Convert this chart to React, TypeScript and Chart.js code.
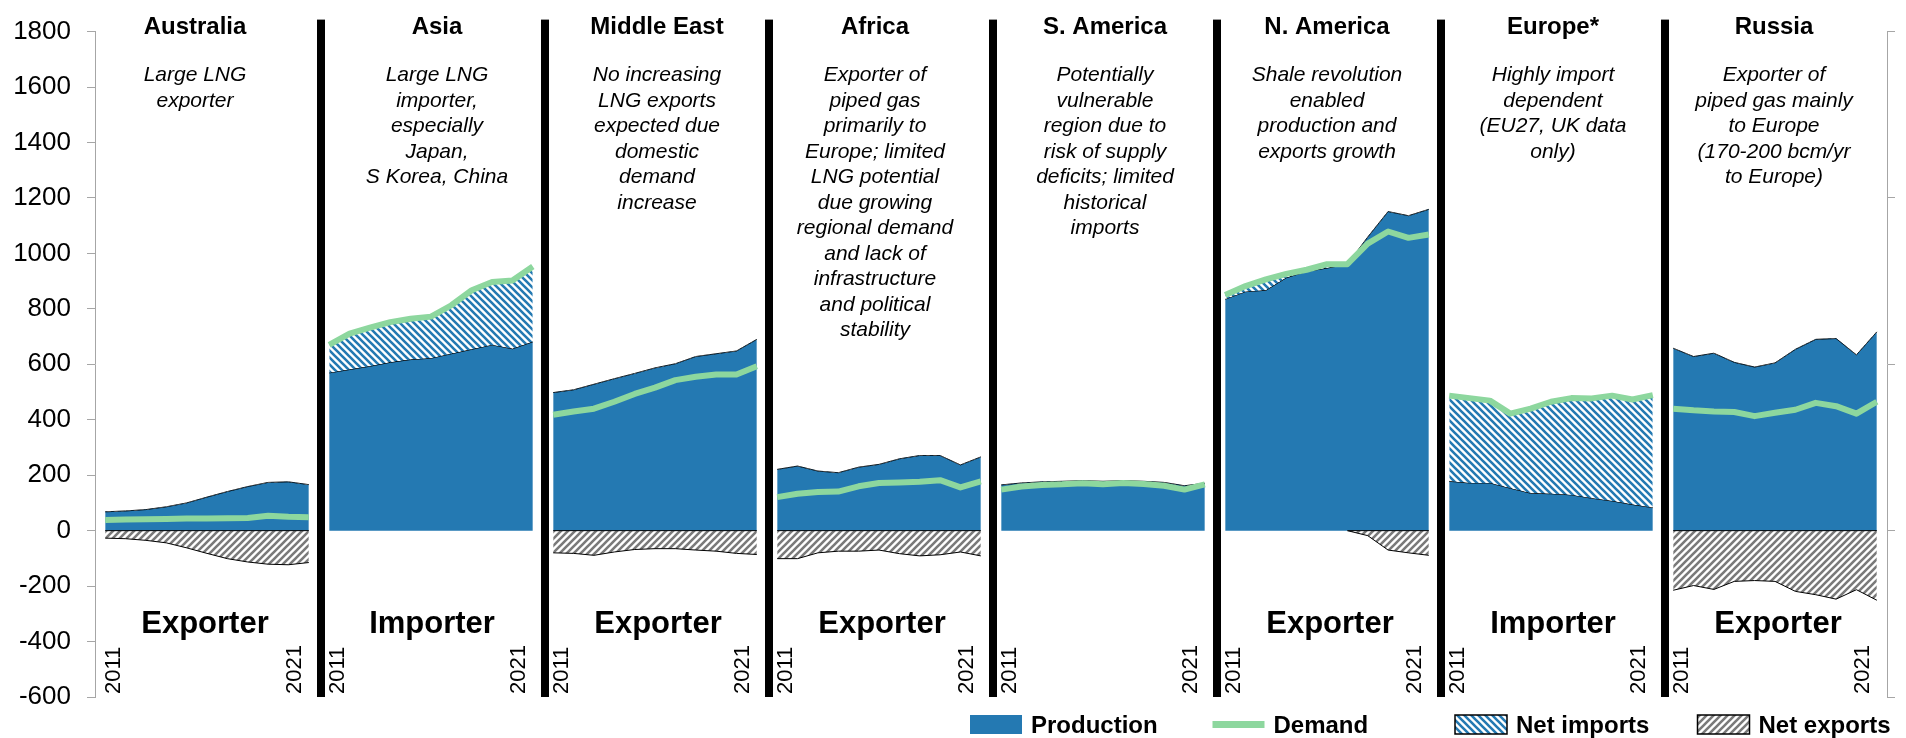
import React, { useEffect, useRef } from 'react';
import { Chart, registerables } from 'chart.js';

Chart.register(...registerables);

const FONT = '"Liberation Sans", Arial, sans-serif';

// ---------- data ----------
const years = ['2011', '2012', '2013', '2014', '2015', '2016', '2017', '2018', '2019', '2020', '2021'];
const regions = ['Australia', 'Asia', 'Middle East', 'Africa', 'S. America', 'N. America', 'Europe*', 'Russia'];
const roles = ['Exporter', 'Importer', 'Exporter', 'Exporter', '', 'Exporter', 'Importer', 'Exporter'];
const notes: string[][] = [
  ['Large LNG', 'exporter'],
  ['Large LNG', 'importer,', 'especially', 'Japan,', 'S Korea, China'],
  ['No increasing', 'LNG exports', 'expected due', 'domestic', 'demand', 'increase'],
  ['Exporter of', 'piped gas', 'primarily to', 'Europe; limited', 'LNG potential', 'due growing', 'regional demand', 'and lack of', 'infrastructure', 'and political', 'stability'],
  ['Potentially', 'vulnerable', 'region due to', 'risk of supply', 'deficits; limited', 'historical', 'imports'],
  ['Shale revolution', 'enabled', 'production and', 'exports growth'],
  ['Highly import', 'dependent', '(EU27, UK data', 'only)'],
  ['Exporter of', 'piped gas mainly', 'to Europe', '(170-200 bcm/yr', 'to Europe)'],
];

const production: number[][] = [
  [68, 71, 76, 86, 100, 121, 141, 159, 174, 176, 166],
  [569, 581, 593, 607, 617, 622, 638, 654, 670, 656, 681],
  [498, 508, 528, 548, 567, 587, 602, 628, 638, 648, 690],
  [221, 233, 215, 209, 229, 239, 259, 271, 271, 237, 266],
  [165, 172, 176, 178, 180, 178, 180, 178, 174, 162, 171],
  [835, 862, 867, 912, 935, 947, 961, 1059, 1151, 1136, 1159],
  [178, 172, 172, 153, 135, 133, 129, 117, 107, 94, 83],
  [658, 628, 640, 607, 590, 605, 654, 690, 693, 634, 717],
];

const demand: number[][] = [
  [38, 40, 41, 42, 44, 44, 45, 46, 54, 50, 48],
  [670, 711, 732, 752, 764, 772, 813, 867, 897, 902, 953],
  [418, 430, 440, 465, 493, 516, 543, 555, 563, 563, 593],
  [121, 133, 139, 141, 160, 172, 174, 176, 182, 156, 178],
  [148, 159, 165, 167, 171, 167, 172, 168, 162, 148, 167],
  [850, 882, 906, 926, 941, 961, 961, 1035, 1079, 1056, 1068],
  [487, 478, 469, 422, 440, 465, 478, 477, 487, 473, 489],
  [440, 434, 430, 428, 413, 425, 436, 461, 449, 422, 465],
];

const N = null;
const netExports: (number | null)[][] = [
  [-27, -29, -35, -44, -62, -82, -101, -113, -121, -123, -115],
  [N, N, N, N, N, N, N, N, N, N, N],
  [-80, -82, -89, -77, -68, -65, -65, -70, -74, -82, -86],
  [-101, -101, -80, -74, -74, -70, -83, -91, -87, -77, -91],
  [N, N, N, N, N, N, N, N, N, N, N],
  [N, N, N, N, N, N, 0, -18, -70, -80, -89],
  [N, N, N, N, N, N, N, N, N, N, N],
  [-215, -198, -212, -183, -180, -183, -219, -231, -247, -213, -251],
];

const yTickMin = -600;
const yTickMax = 1800;
const legendLabels = ['Production', 'Demand', 'Net imports', 'Net exports'];

// ---------- layout / style ----------
const PER = years.length;
const PANELS = regions.length;
const BLUE = '#2479B2';
const GREEN = '#8DD79E';
const AXIS_GREY = '#A6A6A6';
const titleDx = [-12, 6, 2, -4, 2, 0, 2, -1];
const roleDx = [-2, 1, 3, 3, 0, 3, 2, 3];

function series(rows: (number | null)[][]) {
  const pts: { x: number; y: number | null }[] = [];
  rows.forEach((row, i) => {
    row.forEach((v, k) => pts.push({ x: i * PER + k, y: v }));
    if (i < rows.length - 1) pts.push({ x: i * PER + PER - 0.5, y: null });
  });
  return pts;
}

function makeHatch(fg: string, bg: string, dir: 'back' | 'fwd', size = 7, lw = 2.6) {
  const c = document.createElement('canvas');
  c.width = size;
  c.height = size;
  const g = c.getContext('2d')!;
  g.fillStyle = bg;
  g.fillRect(0, 0, size, size);
  g.strokeStyle = fg;
  g.lineWidth = lw;
  g.beginPath();
  for (const off of [-size, 0, size]) {
    if (dir === 'back') {
      g.moveTo(-1, off - 1);
      g.lineTo(size + 1, size + off + 1);
    } else {
      g.moveTo(-1, size + off + 1);
      g.lineTo(size + 1, off - 1);
    }
  }
  g.stroke();
  return g.createPattern(c, 'repeat')!;
}

export default function App() {
  const ref = useRef<HTMLCanvasElement>(null);

  useEffect(() => {
    const canvas = ref.current!;
    const importHatch = makeHatch(BLUE, '#ffffff', 'back');
    const exportHatch = makeHatch('#7a7a7a', '#ffffff', 'fwd');

    const decor = {
      id: 'decor',
      afterDatasetsDraw(chart: any) {
        const { ctx, chartArea, scales } = chart;
        const x = scales.x;
        const y = scales.y;
        const y0 = y.getPixelForValue(0);
        ctx.save();
        // top edge of net-export areas (zero line)
        ctx.strokeStyle = '#000';
        ctx.lineWidth = 1;
        netExports.forEach((row, i) => {
          const idx = row.map((v, k) => (v === null ? -1 : k)).filter((k) => k >= 0);
          if (!idx.length) return;
          ctx.beginPath();
          ctx.moveTo(x.getPixelForValue(i * PER + idx[0]), y0);
          ctx.lineTo(x.getPixelForValue(i * PER + idx[idx.length - 1]), y0);
          ctx.stroke();
        });
        // panel separators
        ctx.fillStyle = '#000';
        for (let i = 0; i < PANELS - 1; i++) {
          const px = x.getPixelForValue(i * PER + PER - 0.5) + 2;
          ctx.fillRect(px - 4, chartArea.top - 12, 8, chartArea.bottom - chartArea.top + 12);
        }
        ctx.restore();
      },
      afterDraw(chart: any) {
        const { ctx, scales, chartArea } = chart;
        const x = scales.x;
        ctx.save();
        ctx.fillStyle = '#000';
        ctx.textAlign = 'center';
        ctx.textBaseline = 'alphabetic';
        for (let i = 0; i < PANELS; i++) {
          const cx = x.getPixelForValue(i * PER + (PER - 1) / 2);
          ctx.font = `bold 24px ${FONT}`;
          ctx.fillText(regions[i], cx + titleDx[i], 34);
          ctx.font = `italic 21px ${FONT}`;
          notes[i].forEach((line, j) => ctx.fillText(line, cx + titleDx[i], 81 + j * 25.5));
          if (roles[i]) {
            ctx.font = `bold 31px ${FONT}`;
            ctx.fillText(roles[i], cx + roleDx[i], 633);
          }
        }
        // year labels (first and last year of each panel), rotated
        ctx.font = `22px ${FONT}`;
        ctx.textAlign = 'left';
        ctx.textBaseline = 'middle';
        for (let i = 0; i < PANELS; i++) {
          const marks: [string, number][] = [
            [years[0], i * PER + 0.37],
            [years[PER - 1], i * PER + PER - 1.71],
          ];
          for (const [txt, v] of marks) {
            ctx.save();
            ctx.translate(x.getPixelForValue(v) + 1, chartArea.bottom - 3);
            ctx.rotate(-Math.PI / 2);
            ctx.fillText(txt, 0, 0);
            ctx.restore();
          }
        }
        // legend
        const lx = [970, 1212.5, 1455, 1697.5];
        const boxW = 52;
        const top = 715;
        const h = 19;
        ctx.textAlign = 'left';
        ctx.textBaseline = 'alphabetic';
        ctx.font = `bold 24px ${FONT}`;
        legendLabels.forEach((label, j) => {
          const x0 = lx[j];
          if (j === 0) {
            ctx.fillStyle = BLUE;
            ctx.fillRect(x0, top, boxW, h);
          } else if (j === 1) {
            ctx.fillStyle = GREEN;
            ctx.fillRect(x0, top + 6, boxW, 7);
          } else {
            ctx.fillStyle = j === 2 ? importHatch : exportHatch;
            ctx.fillRect(x0, top, boxW, h);
            ctx.strokeStyle = '#000';
            ctx.lineWidth = 1.5;
            ctx.strokeRect(x0, top, boxW, h);
          }
          ctx.fillStyle = '#000';
          ctx.fillText(label, x0 + boxW + 9, 733);
        });
        ctx.restore();
      },
    };

    const chart = new Chart(canvas, {
      type: 'line',
      data: {
        datasets: [
          {
            label: 'Demand',
            data: series(demand) as any,
            borderColor: GREEN,
            borderWidth: 6,
            pointRadius: 0,
            spanGaps: false,
            borderJoinStyle: 'round',
            fill: { target: 1, above: importHatch, below: 'rgba(0,0,0,0)' } as any,
          },
          {
            label: 'Production',
            data: series(production) as any,
            borderColor: '#000',
            borderWidth: 1,
            backgroundColor: BLUE,
            pointRadius: 0,
            spanGaps: false,
            fill: 'origin',
          },
          {
            label: 'Net exports',
            data: series(netExports) as any,
            borderColor: '#000',
            borderWidth: 1,
            backgroundColor: exportHatch,
            pointRadius: 0,
            spanGaps: false,
            fill: 'origin',
          },
        ],
      },
      options: {
        responsive: false,
        animation: false,
        events: [],
        layout: { padding: { top: 19, left: 0, right: 0, bottom: 0 } },
        plugins: {
          legend: { display: false },
          tooltip: { enabled: false },
        },
        scales: {
          x: {
            type: 'linear',
            min: -0.5,
            max: PANELS * PER - 0.5,
            grid: { display: false },
            border: { display: false },
            ticks: { display: false },
            afterFit: (s: any) => {
              s.height = 41;
            },
          },
          y: {
            position: 'left',
            min: yTickMin,
            max: yTickMax,
            afterFit: (s: any) => {
              s.width = 95;
            },
            grid: { drawOnChartArea: false, drawTicks: true, tickLength: 8, color: AXIS_GREY },
            border: { display: true, color: AXIS_GREY, width: 1 },
            ticks: {
              stepSize: 200,
              padding: 16,
              color: '#000',
              font: { size: 26, family: FONT },
              callback: (v: any) => String(v),
            },
          },
          y2: {
            position: 'right',
            min: yTickMin,
            max: yTickMax,
            afterFit: (s: any) => {
              s.width = 19;
            },
            grid: { drawOnChartArea: false, drawTicks: true, tickLength: 8, color: AXIS_GREY },
            border: { display: true, color: AXIS_GREY, width: 1 },
            ticks: { stepSize: 600, display: false },
          },
        },
      } as any,
      plugins: [decor],
    });
    return () => chart.destroy();
  }, []);

  return (
    <div style={{ position: 'fixed', left: 0, top: 0, width: 1906, height: 738, background: '#fff' }}>
      <canvas ref={ref} width={1906} height={738} style={{ display: 'block' }} />
    </div>
  );
}
